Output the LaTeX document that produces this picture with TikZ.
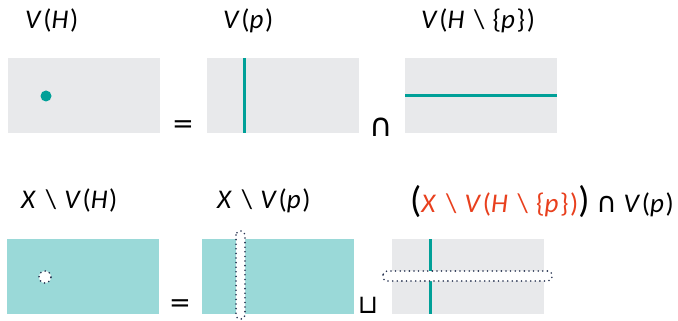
\documentclass[tikz,border=0pt]{standalone}
\usepackage{fontspec}
\setmainfont{Carlito}[LetterSpace=6]
\newfontfamily\opsf{DejaVu Sans}
\usetikzlibrary{positioning}
\definecolor{Panel}{RGB}{232,233,235}
\definecolor{Teal}{RGB}{0,160,152}
\definecolor{Mint}{RGB}{154,217,216}
\definecolor{Accent}{RGB}{232,64,30}
\definecolor{Dots}{RGB}{40,52,82}
\newcommand{\mi}[1]{\textit{#1}}
\newcommand{\smin}{\hspace{0.3em}\textbackslash\hspace{0.3em}}
\newcommand{\bigpar}[1]{{\fontsize{37}{37}\selectfont #1}}

\begin{document}
\begin{tikzpicture}[x=1pt,y=-1pt,
 p/.style={minimum width=152pt,minimum height=75pt,inner sep=0pt,outer sep=0pt,anchor=north west},
 g/.style={p,fill=Panel},
 m/.style={p,fill=Mint},
 t/.style={anchor=base west,inner sep=0pt,font=\fontsize{27}{30}\selectfont},
 o/.style={inner sep=0pt,font=\opsf\fontsize{26}{30}\selectfont},
 ln/.style={Teal,line width=3pt},
 hole/.style={fill=white,draw=Dots,line width=1.8pt,line cap=round,dash pattern=on 0pt off 4.6pt}]
\useasboundingbox (0,0) rectangle (678,321);
% top row
\node[g] (h) at (8,58) {};
\node[g] (vp) at (207,58) {};
\node[g] (vq) at (405,58) {};
\fill[Teal] (46,96) circle (5.5pt);
\draw[ln] (244,58) -- (244,133);
\draw[ln] (405,96) -- (557,96);
\node[t] (lh) at (25,29) {\mi{V}(\mi{H})};
\node[t] (lp) at (223,29) {\mi{V}(\mi{p})};
\node[t] (lq) at (421,29) {\mi{V}(\mi{H}\smin\{\mi{p}\})};
\node[o] (eq1) at (183,127) {=};
\node[o,font=\opsf\fontsize{32}{34}\selectfont] (cap) at (381,127) {∩};
% bottom row
\node[m] (xh) at (7,239) {};
\node[m] (xp) at (202,239) {};
\node[g] (xq) at (392,239) {};
\draw[hole] (45,277) circle (6pt);
\draw[hole,rounded corners=4pt] (236,231) rectangle (245,319);
\draw[ln] (430,239) -- (430,314);
\draw[hole,rounded corners=4pt] (383,271) rectangle (552,281);
\node[t] (lxh) at (21,208) {\mi{X}\smin\mi{V}(\mi{H})};
\node[t] (lxp) at (217,208) {\mi{X}\smin\mi{V}(\mi{p})};
\node[t] (lxq) at (410,212) {\bigpar{(}\textcolor{Accent}{\mi{X}\smin\mi{V}(\mi{H}\smin\{\mi{p}\})}\bigpar{)}\hspace{0.25em}{\opsf\fontsize{28}{30}\selectfont ∩}\hspace{0.25em}\mi{V}(\mi{p})};
\node[o] (eq2) at (180,306) {=};
\node[o] (cup) at (368,305) {⊔};
\end{tikzpicture}
\end{document}
